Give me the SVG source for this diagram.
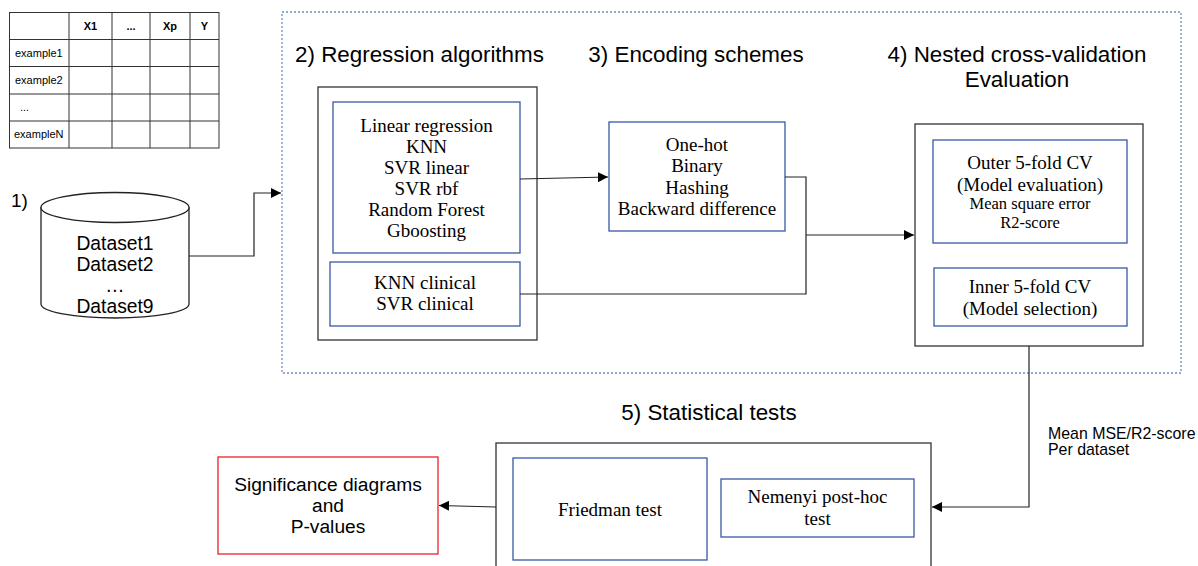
<svg xmlns="http://www.w3.org/2000/svg" width="1198" height="566" viewBox="0 0 1198 566">
<style>
.sans{font-family:"Liberation Sans",Arial,sans-serif;fill:#000}
.serif{font-family:"Liberation Serif","Times New Roman",serif;fill:#000;font-size:19px;text-anchor:middle}
.title{font-size:22.4px}
.blk{fill:#fff;stroke:#333;stroke-width:1.3}
.blu{fill:#fff;stroke:#3a57a7;stroke-width:1.3}
.grid{stroke:#333;stroke-width:1;fill:none}
.conn{fill:none;stroke:#222;stroke-width:1.2}
.tt{font-family:"Liberation Sans",Arial,sans-serif;font-size:11px}
</style>
<defs>
<marker id="arr" viewBox="0 0 10 10" refX="10" refY="5" markerWidth="10" markerHeight="10" markerUnits="userSpaceOnUse" orient="auto">
<path d="M0,0 L10,5 L0,10 z" fill="#000"/>
</marker>
</defs>
<rect width="1198" height="566" fill="#fff"/>

<g id="table">
<rect x="9.5" y="12.5" width="209.5" height="135.5" class="grid"/>
<path class="grid" d="M69,12.5V148 M112,12.5V148 M150,12.5V148 M190,12.5V148 M9.5,39.5H219 M9.5,66.5H219 M9.5,94H219 M9.5,121H219"/>
<g class="tt" font-weight="bold" text-anchor="middle">
<text x="90.5" y="30">X1</text><text x="131" y="30">...</text><text x="170" y="30">Xp</text><text x="204.5" y="30">Y</text>
</g>
<g class="tt">
<text x="15" y="57">example1</text><text x="15" y="84">example2</text><text x="20" y="111">...</text><text x="14" y="138">exampleN</text>
</g>
</g>

<g id="label1"><text x="11" y="207" class="sans" font-size="19">1)</text></g>

<g id="datasets">
<path d="M41,207 V304 A74,14 0 0 0 189,304 V207" fill="#fff" stroke="#222" stroke-width="1.3"/>
<ellipse cx="115" cy="207.5" rx="74" ry="15" fill="#fff" stroke="#222" stroke-width="1.3"/>
<g class="sans" font-size="19.3" text-anchor="middle">
<text x="115" y="250">Dataset1</text><text x="115" y="271">Dataset2</text><text x="115" y="292">…</text><text x="115" y="313">Dataset9</text>
</g>
</g>

<g id="container">
<rect x="282" y="12" width="899" height="361" fill="none" stroke="#6c8ebf" stroke-width="1.3" stroke-dasharray="2,2"/>
<g class="sans title">
<text x="295" y="62">2) Regression algorithms</text>
<text x="696" y="62" text-anchor="middle">3) Encoding schemes</text>
<text x="1017" y="62" text-anchor="middle">4) Nested cross-validation</text>
<text x="1017" y="87" text-anchor="middle">Evaluation</text>
</g>
</g>

<g id="regression">
<rect x="318" y="87" width="219" height="253" class="blk"/>
</g>
<g id="algorithms">
<rect x="333" y="102" width="187" height="151" class="blu"/>
<g class="serif">
<text x="426.5" y="132">Linear regression</text>
<text x="426.5" y="153">KNN</text>
<text x="426.5" y="174">SVR linear</text>
<text x="426.5" y="195">SVR rbf</text>
<text x="426.5" y="216">Random Forest</text>
<text x="426.5" y="237">Gboosting</text>
</g>
</g>
<g id="clinical">
<rect x="330" y="262" width="190" height="64" class="blu"/>
<g class="serif">
<text x="425" y="289">KNN clinical</text>
<text x="425" y="310">SVR clinical</text>
</g>
</g>

<g id="encoding">
<rect x="609" y="122" width="176" height="109" class="blu"/>
<g class="serif">
<text x="697" y="151">One-hot</text>
<text x="697" y="172">Binary</text>
<text x="697" y="194">Hashing</text>
<text x="697" y="215">Backward difference</text>
</g>
</g>

<g id="evaluation">
<rect x="915" y="124" width="228" height="222" class="blk"/>
</g>
<g id="outer-cv">
<rect x="933" y="140" width="194" height="103" class="blu"/>
<g class="serif">
<text x="1030" y="169">Outer 5-fold CV</text>
<text x="1030" y="191">(Model evaluation)</text>
<text x="1030" y="209" font-size="16.5">Mean square error</text>
<text x="1030" y="228" font-size="16.5">R2-score</text>
</g>
</g>
<g id="inner-cv">
<rect x="934" y="268" width="193" height="58" class="blu"/>
<g class="serif">
<text x="1030" y="293">Inner 5-fold CV</text>
<text x="1030" y="315">(Model selection)</text>
</g>
</g>

<g id="stats-title"><text x="709" y="420" class="sans title" text-anchor="middle">5) Statistical tests</text></g>
<g id="stats">
<rect x="496" y="443" width="435" height="140" class="blk"/>
</g>
<g id="friedman">
<rect x="513" y="458" width="194" height="102" class="blu"/>
<text x="610" y="516" class="serif">Friedman test</text>
</g>
<g id="nemenyi">
<rect x="721" y="479" width="193" height="58" class="blu"/>
<g class="serif">
<text x="817.5" y="503">Nemenyi post-hoc</text>
<text x="817.5" y="525">test</text>
</g>
</g>

<g id="significance">
<rect x="218" y="457" width="220" height="97" fill="#fff" stroke="#e8232a" stroke-width="1.3"/>
<g class="sans" font-size="19.2" text-anchor="middle">
<text x="328" y="491">Significance diagrams</text>
<text x="328" y="512">and</text>
<text x="328" y="533">P-values</text>
</g>
</g>

<g id="connectors">
<path class="conn" d="M189,256 H254 V193 H281" marker-end="url(#arr)"/>
<path class="conn" d="M520,179 L608,177" marker-end="url(#arr)"/>
<path class="conn" d="M785,177 H806 V294 H520"/>
<path class="conn" d="M806,235 H914" marker-end="url(#arr)"/>
<path class="conn" d="M1029,346 V507 H932" marker-end="url(#arr)"/>
<path class="conn" d="M496,507 L439,505.5" marker-end="url(#arr)"/>
<g class="sans" font-size="15.9">
<text x="1048" y="439">Mean MSE/R2-score</text>
<text x="1048" y="455">Per dataset</text>
</g>
</g>
</svg>
